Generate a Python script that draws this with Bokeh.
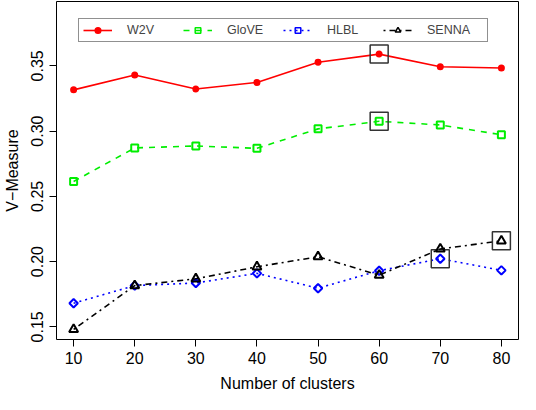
import math
from bokeh.plotting import figure
from bokeh.models import Range1d, FixedTicker, Legend, LegendItem, CustomJSTickFormatter
from bokeh.embed import file_html
from bokeh.resources import INLINE

# ---- data ----
clusters = [10, 20, 30, 40, 50, 60, 70, 80]
w2v   = [0.3316, 0.3430, 0.3323, 0.3373, 0.3528, 0.3590, 0.3493, 0.3483]
glove = [0.2614, 0.2871, 0.2886, 0.2868, 0.3017, 0.3075, 0.3047, 0.2972]
hlbl  = [0.1681, 0.1816, 0.1836, 0.1910, 0.1796, 0.1930, 0.2022, 0.1933]
senna = [0.1480, 0.1816, 0.1868, 0.1960, 0.2037, 0.1896, 0.2097, 0.2159]
series_names = ["W2V", "GloVE", "HLBL", "SENNA"]
highlight_x = [60, 60, 70, 80]   # boxed (best) point of each series
y_ticks = [0.15, 0.20, 0.25, 0.30, 0.35]
x_ticks = [10, 20, 30, 40, 50, 60, 70, 80]

FONT = "Liberation Sans"

p = figure(width=520, height=394, output_backend="svg", toolbar_location=None,
           x_range=Range1d(7.2, 82.8), y_range=Range1d(0.1403, 0.3993),
           min_border_left=54, min_border_right=2, min_border_top=1, min_border_bottom=50)
p.background_fill_color = "white"
p.border_fill_color = "white"
p.outline_line_color = "black"
p.outline_line_width = 1
p.xgrid.visible = False
p.ygrid.visible = False

for ax in (p.xaxis[0], p.yaxis[0]):
    ax.axis_line_color = None
    ax.major_tick_out = 7
    ax.major_tick_in = 0
    ax.minor_tick_line_color = None
    ax.major_tick_line_color = "black"
    ax.major_label_text_font = FONT
    ax.major_label_text_font_size = "16px"
    ax.major_label_text_color = "black"
    ax.axis_label_text_font = FONT
    ax.axis_label_text_font_size = "16px"
    ax.axis_label_text_font_style = "normal"
    ax.axis_label_text_color = "black"

p.xaxis[0].ticker = FixedTicker(ticks=x_ticks)
p.yaxis[0].ticker = FixedTicker(ticks=y_ticks)
p.yaxis[0].formatter = CustomJSTickFormatter(code="return tick.toFixed(2);")
p.yaxis[0].major_label_orientation = "vertical"
p.xaxis[0].major_label_standoff = 5
p.yaxis[0].major_label_standoff = 6
p.xaxis[0].axis_label = "Number of clusters"
p.yaxis[0].axis_label = "V\u2212Measure"
p.xaxis[0].axis_label_standoff = 8
p.yaxis[0].axis_label_standoff = 8

styles = [
    dict(vals=w2v,   color="#FF0000", dash="solid",   marker="circle",   size=5, fill="#FF0000", angle=0.0,         lsize=4),
    dict(vals=glove, color="#00EE00", dash="6 6",     marker="square",   size=7, fill=None,      angle=0.0,         lsize=5),
    dict(vals=hlbl,  color="#0000FF", dash="2 4",     marker="square",   size=6, fill=None,      angle=math.pi / 4, lsize=4),
    dict(vals=senna, color="#000000", dash="2 4 6 4", marker="triangle", size=9, fill=None,      angle=0.0,         lsize=6),
]

items = []
for name, st, hx in zip(series_names, styles, highlight_x):
    ln = p.line(clusters, st["vals"], line_color=st["color"], line_width=1.6,
                line_dash=st["dash"])
    p.scatter(clusters, st["vals"], marker=st["marker"], size=st["size"], angle=st["angle"],
              line_color=st["color"], line_width=2,
              fill_color=st["fill"] if st["fill"] else None)
    # legend-only symbol (smaller, as in the original key); its point is NaN so it draws nothing on the plot
    proxy = p.scatter(x=[math.nan], y=[math.nan], marker=st["marker"], size=st["lsize"],
                      angle=st["angle"], line_color=st["color"], line_width=1.5,
                      fill_color=st["fill"] if st["fill"] else None)
    items.append(LegendItem(label=name, renderers=[ln, proxy]))
    hy = st["vals"][clusters.index(hx)]
    p.scatter([hx], [hy], marker="square", size=18, fill_color=None,
              line_color="#333333", line_width=1.5)

legend = Legend(items=items, orientation="horizontal", location=(22, 297),
                glyph_width=29, glyph_height=14, label_standoff=15,
                label_width=56, spacing=0, padding=4, margin=0,
                label_text_font=FONT, label_text_font_size="12.5px",
                label_height=14,
                border_line_color="#222222", border_line_width=1.5,
                background_fill_color="white", background_fill_alpha=1.0)
p.add_layout(legend, "center")

open("out.html", "w").write(file_html(p, INLINE))
